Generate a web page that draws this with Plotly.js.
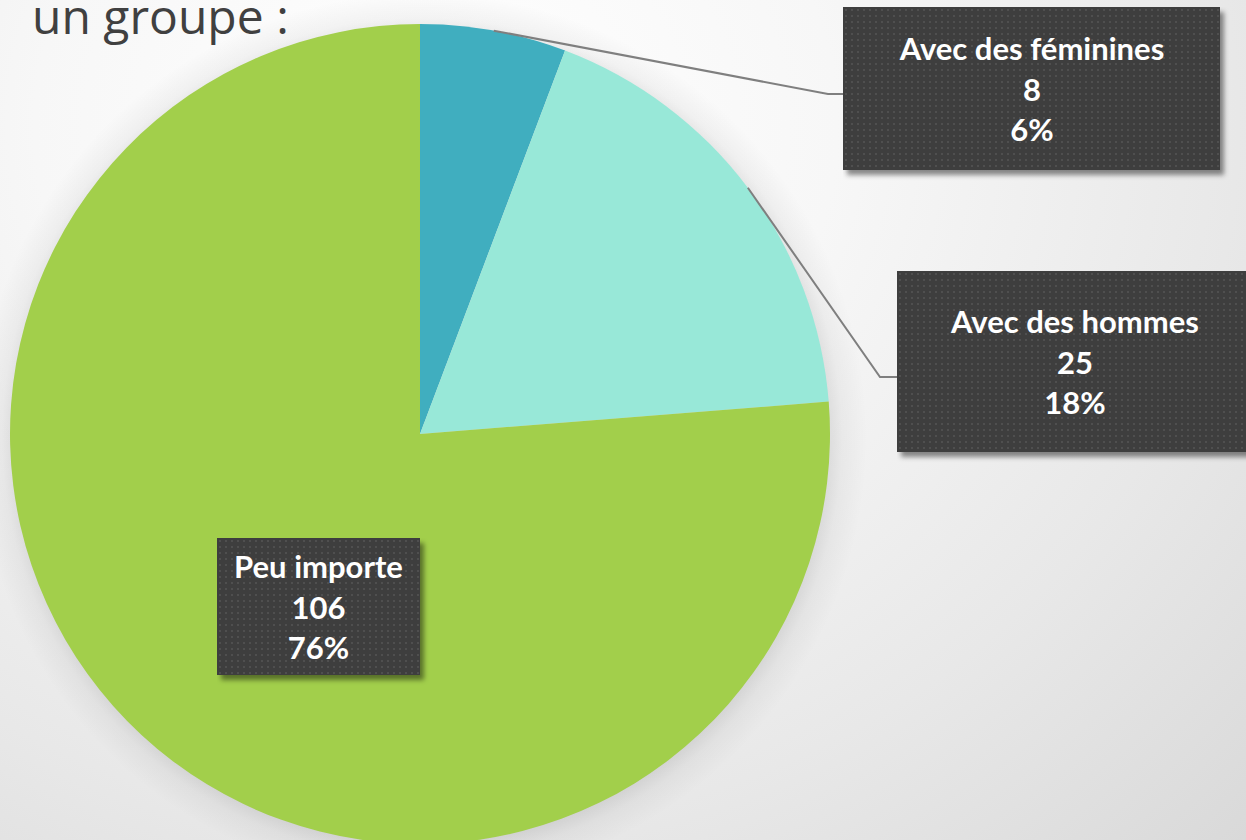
<!DOCTYPE html>
<html><head><meta charset="utf-8">
<script src="https://cdn.plot.ly/plotly-3.0.1.min.js"></script>
<style>
html,body{margin:0;padding:0;width:1246px;height:840px;overflow:hidden;}
body{background:
 radial-gradient(circle at 422px 438px, rgba(0,0,0,0.10) 404px, rgba(0,0,0,0.04) 420px, rgba(0,0,0,0) 445px),
 radial-gradient(ellipse at 35% 15%, #ffffff 0%, #f7f7f7 35%, #e8e8e8 70%, #d9d9d9 100%);}
#chart{width:1246px;height:870px;}
</style></head>
<body><div id="chart"></div>
<script>
const categories = ["Avec des féminines", "Avec des hommes", "Peu importe"];
const values = [8, 25, 106];
const colors = ["#40AEBF", "#98E8D8", "#A2CF4B"];
const titleText = "un groupe :";

const W = 1246, H = 870;
const px = x => x / W, py = y => 1 - y / H;
const cx = 420, cy = 434, R = 410;

const total = values.reduce((a, b) => a + b, 0);
const pct = values.map(v => Math.round(v / total * 100) + "%");

// label boxes: [left, top, right, bottom] in pixels, and leader elbow
const boxes = [
  {l: 843, t: 7, r: 1220, b: 170, elbow: [828, 94]},
  {l: 897, t: 271, r: 1252, b: 452, elbow: [880, 377]},
  {l: 217, t: 538, r: 420, b: 675, elbow: null}
];

function boxSvg(w, h) {
  const P = 14;
  const svg = `<svg xmlns="http://www.w3.org/2000/svg" width="${w + P}" height="${h + P}" viewBox="0 0 ${w + P} ${h + P}">
<defs><filter id="b" x="-10%" y="-10%" width="120%" height="120%"><feGaussianBlur stdDeviation="2.5"/></filter>
<pattern id="p" width="6" height="6" patternUnits="userSpaceOnUse"><rect width="6" height="6" fill="#3e3e3e"/><rect x="2" y="2" width="2" height="2" fill="#4f4f4f"/></pattern></defs>
<rect x="4" y="5" width="${w}" height="${h}" fill="rgba(0,0,0,0.45)" filter="url(#b)"/>
<rect x="0" y="0" width="${w}" height="${h}" fill="url(#p)"/></svg>`;
  return 'data:image/svg+xml;charset=utf-8,' + encodeURIComponent(svg);
}

const annotations = [];
const shapes = [];
const images = [];
let cum = 0;
values.forEach((v, i) => {
  const mid = (cum + v / 2) / total * 2 * Math.PI;
  cum += v;
  const bx = boxes[i];
  const w = bx.r - bx.l, h = bx.b - bx.t;
  const xc = (bx.l + bx.r) / 2, yc = (bx.t + bx.b) / 2;
  images.push({source: boxSvg(w, h), xref: 'paper', yref: 'paper', x: px(bx.l), y: py(bx.t),
    sizex: (w + 14) / W, sizey: (h + 14) / H, xanchor: 'left', yanchor: 'top', sizing: 'stretch', layer: 'above'});
  annotations.push({xref: 'paper', yref: 'paper', x: px(xc), y: py(yc), xanchor: 'center', yanchor: 'middle',
    text: '<b>' + categories[i] + '</b><br><b>' + v + '</b><br><b>' + pct[i] + '</b>',
    width: w, height: h, showarrow: false, borderpad: 0, align: 'center', valign: 'middle',
    font: {family: 'Lato, "Open Sans", sans-serif', size: 31, color: '#ffffff'}});
  if (bx.elbow) {
    const sx = cx + R * Math.sin(mid), sy = cy - R * Math.cos(mid);
    shapes.push({type: 'path', xref: 'paper', yref: 'paper',
      path: `M ${px(sx)} ${py(sy)} L ${px(bx.elbow[0])} ${py(bx.elbow[1])} L ${px(bx.l)} ${py(bx.elbow[1])}`,
      line: {color: '#7f7f7f', width: 2}});
  }
});

annotations.unshift({xref: 'paper', yref: 'paper', x: px(30), y: py(50), xanchor: 'left', yanchor: 'bottom',
  text: titleText, showarrow: false, font: {family: '"Open Sans", sans-serif', size: 48, color: '#404040'}});

const data = [{
  type: 'pie', labels: categories, values: values, sort: false, direction: 'clockwise', rotation: 0,
  marker: {colors: colors, line: {width: 0}}, textinfo: 'none', hoverinfo: 'label+value+percent',
  domain: {x: [px(10), px(830)], y: [py(844), py(24)]}, showlegend: false
}];

const layout = {width: W, height: H, margin: {l: 0, r: 0, t: 0, b: 0},
  paper_bgcolor: 'rgba(0,0,0,0)', plot_bgcolor: 'rgba(0,0,0,0)', showlegend: false,
  annotations: annotations, shapes: shapes, images: images};

Plotly.newPlot('chart', data, layout, {displayModeBar: false, staticPlot: true});
</script></body></html>
